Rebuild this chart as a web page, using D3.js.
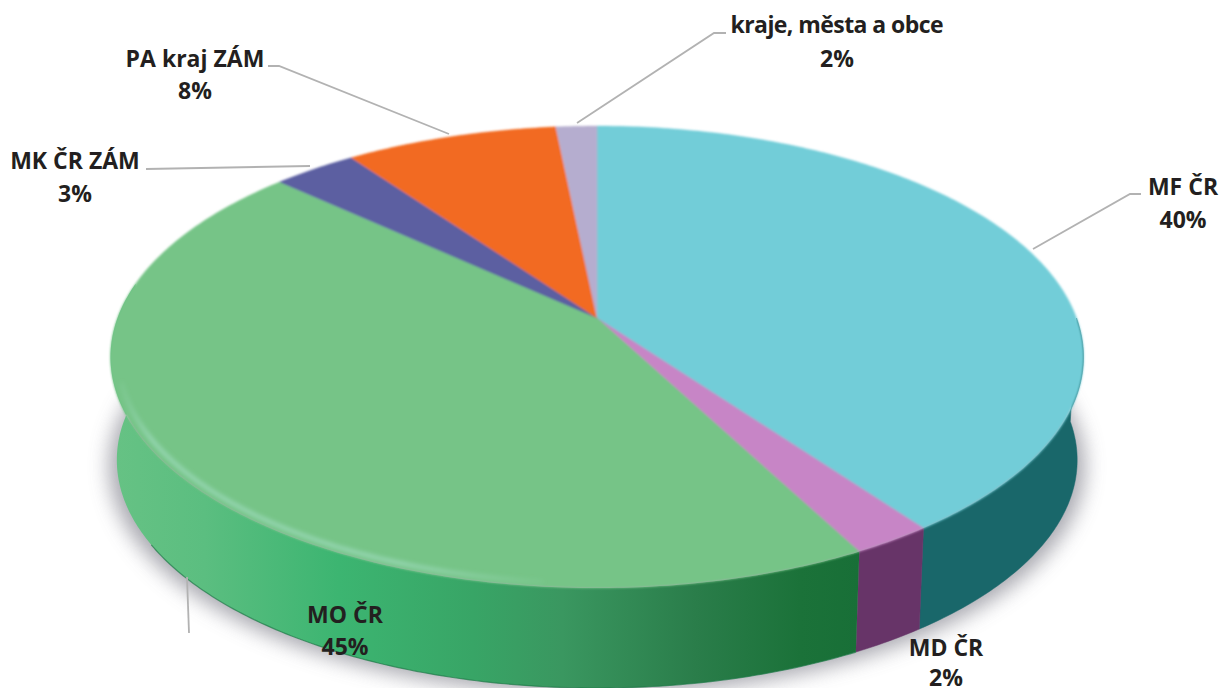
<!DOCTYPE html>
<html>
<head>
<meta charset="utf-8">
<script src="https://cdn.jsdelivr.net/npm/d3@7"></script>
<style>
	html, body { margin: 0; padding: 0; background: #fff; overflow: hidden; }
	text { font-family: "Open Sans", Lato, sans-serif; font-weight: 700; font-size: 23px; fill: #231f20; text-anchor: middle; }
</style>
</head>
<body>
<script>
const names = ['MF ČR', 'MD ČR', 'MO ČR', 'MK ČR ZÁM', 'PA kraj ZÁM', 'kraje, města a obce'];
const shares = [40, 2.3, 44.5, 3.3, 8.3, 1.6];
const shareLabels = ['40%', '2%', '45%', '3%', '8%', '2%'];
const topColors = ['#72cdd8', '#c785c6', '#76c487', '#5b5fa1', '#f26a21', '#b5adcf'];
const sideColors = ['#19676a', '#673468', 'url(#greenSide)'];

const width = 1221, height = 688;
const cx = 597, apexY = 318, midY = 357;
// the disc is seen in perspective: the apex sits above the middle of the ellipse
const k = 0.169, scaleX = 479.5, scaleY = 224.4, depth = 103, shrink = 0.987;

const svg = d3.select('body').append('svg').attr('width', width).attr('height', height);
const defs = svg.append('defs');

const blur = (id, s) => defs.append('filter').attr('id', id)
	.attr('filterUnits', 'userSpaceOnUse')
	.attr('x', 0).attr('y', 0).attr('width', width).attr('height', height)
	.append('feGaussianBlur').attr('stdDeviation', s);
blur('shadowBlur', 10);
blur('rimBlur', 2.2);
blur('softEdge', 1.2);

const greenSide = defs.append('linearGradient').attr('id', 'greenSide')
	.attr('gradientUnits', 'userSpaceOnUse').attr('x1', 115).attr('x2', 860).attr('y1', 0).attr('y2', 0);
[[0, '#66c284'], [0.12, '#5bbe80'], [0.3, '#3cb571'], [0.48, '#38a566'], [0.6, '#3a9760'], [0.78, '#2a7d4a'], [0.92, '#1b7239'], [1, '#186f37']]
	.forEach(([o, c]) => greenSide.append('stop').attr('offset', o).attr('stop-color', c));

const bevel = defs.append('linearGradient').attr('id', 'bevel')
	.attr('gradientUnits', 'userSpaceOnUse').attr('x1', 115).attr('x2', 560).attr('y1', 0).attr('y2', 0);
[[0, 0], [0.08, 0.7], [0.65, 0.7], [1, 0]]
	.forEach(([o, a]) => bevel.append('stop').attr('offset', o).attr('stop-color', '#a0dcc0').attr('stop-opacity', a));

const pieLayout = d3.pie().sort(null).value((d) => d);
const arcs = pieLayout(shares);

const projX = d3.scaleLinear().domain([-1, 1]).range([cx - scaleX, cx + scaleX]);
const projY = d3.scaleLinear().domain([-1, 1]).range([apexY + scaleY, apexY - scaleY]);

// angle (0 at top, clockwise) and radius to the screen
const project = (a, r = 1) => {
	const x = r * Math.sin(a), y = r * Math.cos(a), w = 1 + k * y;
	return [projX(x / w), projY(y / w)];
};
const lower = ([x, y]) => [cx + (x - cx) * shrink, midY + (y - midY) * shrink + depth];
const rim = (a0, a1, r = 1) => {
	const n = Math.max(2, Math.ceil((a1 - a0) * 80));
	return d3.range(n + 1).map((i) => project(a0 + (a1 - a0) * i / n, r));
};
const line = d3.line();

// shadow under the disc
const all = rim(0, 2 * Math.PI);
svg.append('path')
	.attr('d', line(all.map(lower).map(([x, y]) => [cx + (x - cx) * 1.016, y + 6])) + 'Z')
	.attr('fill', '#8c8c96').attr('opacity', 0.75).attr('filter', 'url(#shadowBlur)');

// outer wall, only the front of the disc shows
svg.append('g').selectAll('path')
	.data(arcs.slice(0, 3))
	.join('path')
	.attr('d', (d) => {
		const top = rim(Math.max(d.startAngle, Math.PI * 0.5), Math.min(d.endAngle, Math.PI * 1.55));
		return line(top.concat(top.map(lower).reverse())) + 'Z';
	})
	.attr('fill', (d, i) => sideColors[i])
	.attr('stroke', (d, i) => i === 2 ? 'none' : sideColors[i]).attr('stroke-width', 0.5);

// dark line along the bottom of the green wall
const greenRim = rim(arcs[2].startAngle, Math.PI * 1.33).map(lower);
svg.append('path').attr('d', line(greenRim)).attr('fill', 'none')
	.attr('stroke', '#1f7a48').attr('stroke-width', 1.2).attr('opacity', 0.7);

// top faces
svg.append('g').attr('filter', 'url(#softEdge)').selectAll('path')
	.data(arcs)
	.join('path')
	.attr('d', (d) => line([[cx, apexY]].concat(rim(d.startAngle, d.endAngle))) + 'Z')
	.attr('fill', (d, i) => topColors[i])
	.attr('stroke', (d, i) => topColors[i]).attr('stroke-width', 0.4);

// bevel highlight on the green rim
svg.append('path')
	.attr('d', line(rim(Math.PI * 1.03, Math.PI * 1.41, 0.985)))
	.attr('fill', 'none').attr('stroke', 'url(#bevel)').attr('stroke-width', 4.5)
	.attr('filter', 'url(#rimBlur)');

// leader lines
const leaders = [
	[[1033, 249], [1130, 194], [1141, 194]],
	[[187, 577], [189, 633]],
	[[310, 166], [146, 169]],
	[[449, 134], [279, 66], [268, 66]],
	[[577, 123], [714, 33], [726, 33]]
];
svg.append('g').selectAll('path')
	.data(leaders)
	.join('path')
	.attr('d', (d) => line(d))
	.attr('fill', 'none').attr('stroke', '#b2b2b2').attr('stroke-width', 1.8);

// labels: name line, share line
const labelSpots = [
	[1183, 195, 228],
	[946, 656, 686],
	[345, 623, 655],
	[75, 169, 202],
	[195, 67, 99],
	[837, 33, 67]
];
const labels = svg.append('g').selectAll('g')
	.data(names)
	.join('g');
labels.append('text')
	.attr('x', (d, i) => labelSpots[i][0]).attr('y', (d, i) => labelSpots[i][1])
	.attr('textLength', (d) => d.length > 15 ? 213 : null)
	.text((d) => d);
labels.append('text')
	.attr('x', (d, i) => labelSpots[i][0]).attr('y', (d, i) => labelSpots[i][2])
	.text((d, i) => shareLabels[i]);
</script>
</body>
</html>
